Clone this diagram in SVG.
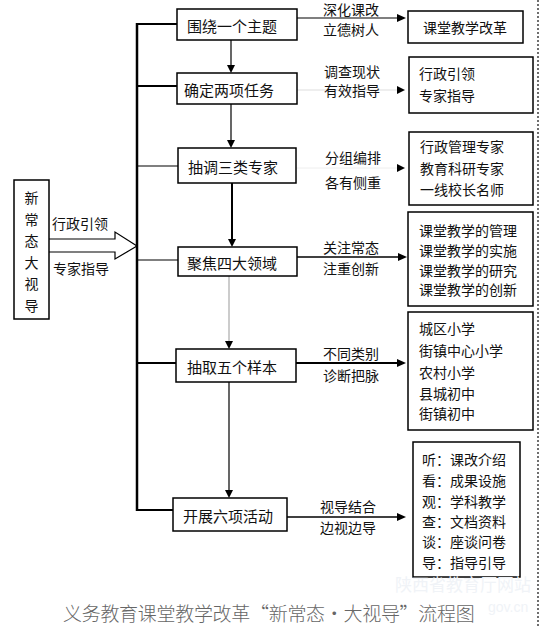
<svg xmlns="http://www.w3.org/2000/svg" width="540" height="627" viewBox="0 0 540 627">
<style>
text{font-family:"Noto Sans CJK SC","Liberation Sans",sans-serif;fill:#111;dominant-baseline:central}
.n{font-size:15px;text-anchor:middle}
.s{font-size:14px}
.c{text-anchor:middle}
.box{fill:#fff;stroke:#000;stroke-width:1.5}
.bk{fill:none;stroke:#000}
.ah{fill:#000}
</style>
<rect width="540" height="627" fill="#fff"/>
<line x1="538" y1="0" x2="538" y2="627" stroke="#222" stroke-width="1.3" stroke-dasharray="2,2"/>

<g id="connectors">
  <line class="bk" x1="137" y1="23" x2="137" y2="511" stroke-width="2.5"/>
  <line class="bk" x1="137" y1="24" x2="177" y2="24" stroke-width="2.2"/>
  <line class="bk" x1="137" y1="86" x2="177" y2="86" stroke-width="2.2"/>
  <line class="bk" x1="137" y1="166" x2="178" y2="166" stroke-width="1.2"/>
  <line class="bk" x1="137" y1="260" x2="178" y2="260" stroke-width="1.2"/>
  <line class="bk" x1="137" y1="363" x2="176" y2="363" stroke-width="2.2"/>
  <line class="bk" x1="137" y1="510" x2="173" y2="510" stroke-width="2.2"/>
  <path class="bk" d="M49,239 H115 V232 L137,246 L115,259 V252 H49" stroke-width="1.2"/>

  <line class="bk" x1="231" y1="40" x2="231" y2="66" stroke-width="1.2"/>
  <path class="ah" d="M227,65 L235,65 L231,73 Z"/>
  <line class="bk" x1="231" y1="104" x2="231" y2="141" stroke-width="1.2"/>
  <path class="ah" d="M227,140 L235,140 L231,148 Z"/>
  <line class="bk" x1="232" y1="183" x2="232" y2="240" stroke-width="2"/>
  <path class="ah" d="M228,239 L236,239 L232,247 Z"/>
  <line x1="229" y1="276" x2="229" y2="342" stroke="#999" stroke-width="1"/>
  <path class="ah" d="M225,341 L233,341 L229,349 Z"/>
  <line class="bk" x1="229" y1="382" x2="229" y2="491" stroke-width="1.2"/>
  <path class="ah" d="M225,490 L233,490 L229,498 Z"/>

  <line class="bk" x1="297" y1="18" x2="398" y2="18" stroke-width="1.2"/>
  <path class="ah" d="M397,14 L406,18 L397,22 Z"/>
  <line x1="297" y1="90" x2="398" y2="90" stroke="#ddd" stroke-width="1"/>
  <path class="ah" d="M397,86 L405,90 L397,94 Z"/>
  <line x1="296" y1="168" x2="398" y2="168" stroke="#eee" stroke-width="1"/>
  <path class="ah" d="M397,164 L405,168 L397,172 Z"/>
  <line class="bk" x1="297" y1="257" x2="399" y2="257" stroke-width="1.5"/>
  <path class="ah" d="M398,253 L407,257 L398,261 Z"/>
  <line class="bk" x1="296" y1="363" x2="398" y2="363" stroke-width="2"/>
  <path class="ah" d="M397,359 L406,363 L397,367 Z"/>
  <line class="bk" x1="287" y1="517" x2="398" y2="517" stroke-width="1.3"/>
  <path class="ah" d="M397,513 L406,517 L397,521 Z"/>

  <text class="s" x="52" y="223">行政引领</text>
  <text class="s" x="53" y="268">专家指导</text>
  <text class="s c" x="351" y="8.5">深化课改</text>
  <text class="s c" x="351" y="29">立德树人</text>
  <text class="s c" x="352" y="71">调查现状</text>
  <text class="s c" x="352" y="90">有效指导</text>
  <text class="s c" x="353" y="157">分组编排</text>
  <text class="s c" x="353" y="182">各有侧重</text>
  <text class="s c" x="351" y="247">关注常态</text>
  <text class="s c" x="351" y="268">注重创新</text>
  <text class="s c" x="351" y="353">不同类别</text>
  <text class="s c" x="351" y="375">诊断把脉</text>
  <text class="s c" x="348" y="506">视导结合</text>
  <text class="s c" x="348" y="527">边视边导</text>
</g>

<g id="node-xinchangtai">
  <rect class="box" x="14" y="180" width="35" height="139" stroke-width="2"/>
  <text class="s c" x="31.5" y="197">新</text>
  <text class="s c" x="31.5" y="218.5">常</text>
  <text class="s c" x="31.5" y="240">态</text>
  <text class="s c" x="31.5" y="261.5">大</text>
  <text class="s c" x="31.5" y="283">视</text>
  <text class="s c" x="31.5" y="304.5">导</text>
</g>

<g id="node-1"><rect class="box" x="177" y="9" width="120" height="31" stroke-width="2"/><text class="n" x="232" y="25">围绕一个主题</text></g>
<g id="node-2"><rect class="box" x="177" y="73" width="120" height="31"/><text class="n" x="229" y="89">确定两项任务</text></g>
<g id="node-3"><rect class="box" x="178" y="148" width="118" height="35"/><text class="n" x="233" y="166">抽调三类专家</text></g>
<g id="node-4"><rect class="box" x="178" y="247" width="119" height="29" stroke-width="2"/><text class="n" x="232" y="262">聚焦四大领域</text></g>
<g id="node-5"><rect class="box" x="176" y="349" width="120" height="33"/><text class="n" x="232" y="366">抽取五个样本</text></g>
<g id="node-6"><rect class="box" x="173" y="498" width="114" height="33"/><text class="n" x="228" y="515">开展六项活动</text></g>

<g id="node-r1"><rect class="box" x="408" y="11" width="115" height="32" stroke-width="2.2"/><text class="s c" x="465" y="27">课堂教学改革</text></g>
<g id="node-r2"><rect class="box" x="409" y="57" width="124" height="56" stroke-width="2"/>
  <text class="s" x="419" y="73">行政引领</text><text class="s" x="419" y="95">专家指导</text></g>
<g id="node-r3"><rect class="box" x="409" y="132" width="124" height="73" stroke-width="2"/>
  <text class="s" x="420" y="146">行政管理专家</text><text class="s" x="420" y="167.5">教育科研专家</text><text class="s" x="420" y="189">一线校长名师</text></g>
<g id="node-r4"><rect class="box" x="408" y="212" width="125" height="94" stroke-width="2"/>
  <text class="s" x="419" y="229.5">课堂教学的管理</text><text class="s" x="419" y="249.5">课堂教学的实施</text><text class="s" x="419" y="269.5">课堂教学的研究</text><text class="s" x="419" y="289">课堂教学的创新</text></g>
<g id="node-r5"><rect class="box" x="408" y="312" width="125" height="118" stroke-width="2"/>
  <text class="s" x="419" y="328">城区小学</text><text class="s" x="419" y="350">街镇中心小学</text><text class="s" x="419" y="372">农村小学</text><text class="s" x="419" y="393">县城初中</text><text class="s" x="419" y="413">街镇初中</text></g>
<g id="node-r6"><rect class="box" x="413" y="442" width="107" height="135"/>
  <text class="s" x="422" y="459">听：课改介绍</text><text class="s" x="422" y="480">看：成果设施</text><text class="s" x="422" y="501">观：学科教学</text><text class="s" x="422" y="521">查：文档资料</text><text class="s" x="422" y="541">谈：座谈问卷</text><text class="s" x="422" y="562">导：指导引导</text></g>

<text x="395" y="583" style="font-size:17px;fill:#f0f3f7">陕西省教育厅网站</text>
<text x="488" y="607" style="font-size:14px;fill:#f0f3f7;font-family:'Liberation Sans',sans-serif">gov.cn</text>
<text x="63" y="612" style="font-size:19px;fill:#666;font-weight:300;letter-spacing:-0.3px">义务教育课堂教学改革“新常态·大视导”流程图</text>
</svg>
